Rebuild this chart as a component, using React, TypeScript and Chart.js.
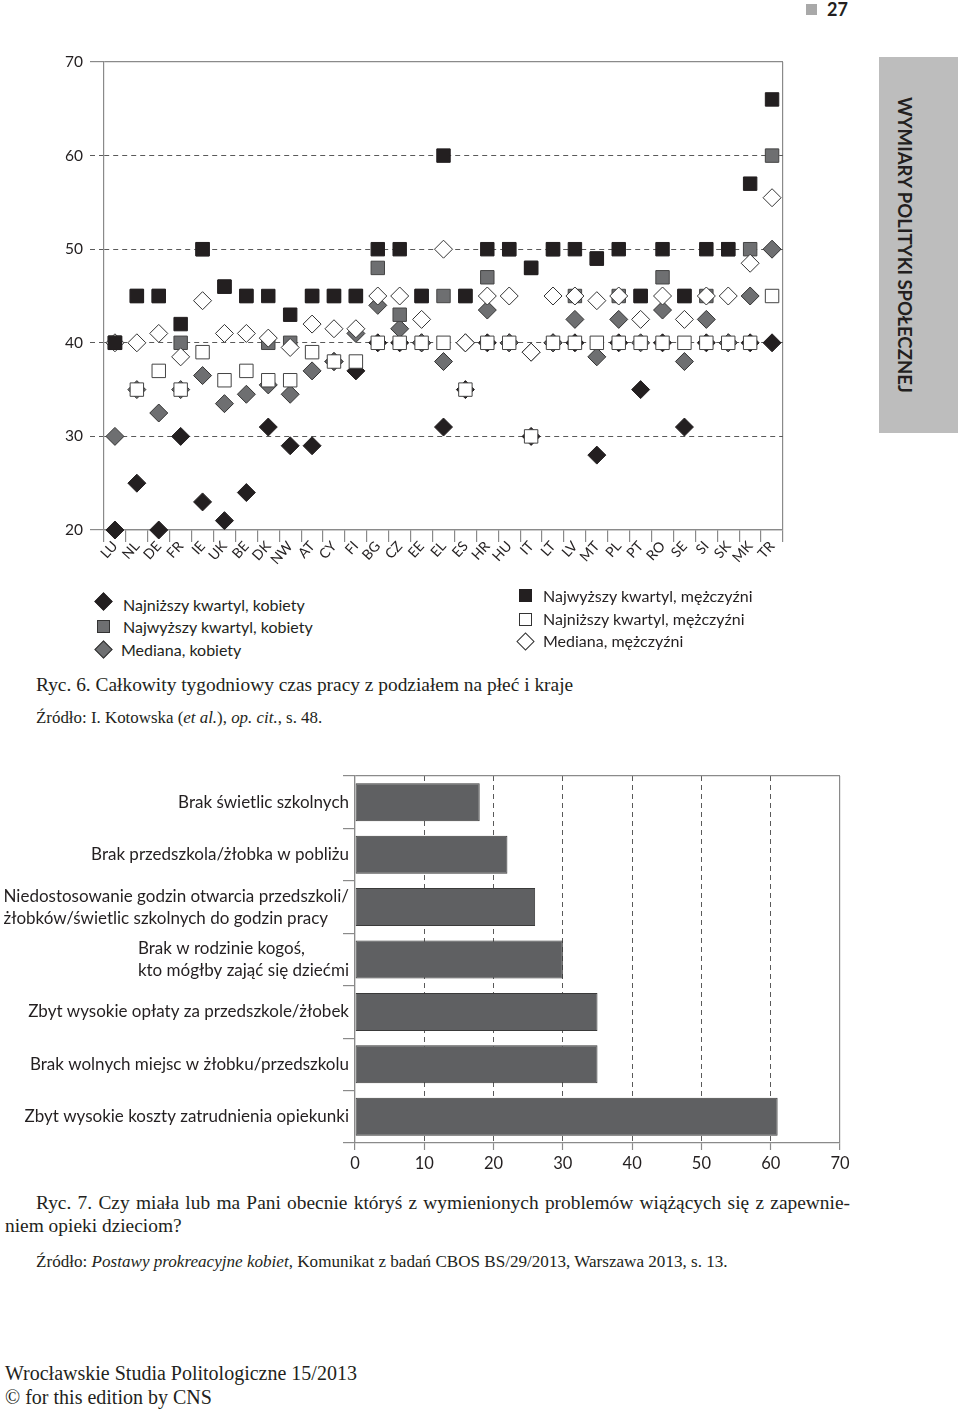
import React, { useEffect, useRef } from "react";
import { Chart, registerables } from "chart.js";

Chart.register(...registerables);

// ---------- Chart 1 data (Ryc. 6) ----------
const countries = [
  "LU", "NL", "DE", "FR", "IE", "UK", "BE", "DK", "NW", "AT", "CY", "FI", "BG", "CZ", "EE", "EL",
  "ES", "HR", "HU", "IT", "LT", "LV", "MT", "PL", "PT", "RO", "SE", "SI", "SK", "MK", "TR",
];
const womenLow = [
  20, 25, 20, 30, 23, 21, 24, 31, 29, 29, 38, 37, 40, 40, 40, 31,
  35, 40, 40, 30, 40, 40, 28, 40, 35, 40, 31, 40, 40, 40, 40,
];
const womenHigh = [
  40, 45, 45, 40, 50, 46, 45, 40, 40, 45, 45, 45, 48, 43, 45, 45,
  45, 47, 50, 48, 50, 45, 49, 45, 45, 47, 45, 45, 50, 50, 60,
];
const womenMedian = [
  30, 35, 32.5, 35, 36.5, 33.5, 34.5, 35.5, 34.5, 37, 38, 41, 44, 41.5, 40, 38,
  40, 43.5, 40, 39, 40, 42.5, 38.5, 42.5, 40, 43.5, 38, 42.5, 40, 45, 50,
];
const menHigh = [
  40, 45, 45, 42, 50, 46, 45, 45, 43, 45, 45, 45, 50, 50, 45, 60,
  45, 50, 50, 48, 50, 50, 49, 50, 45, 50, 45, 50, 50, 57, 66,
];
const menLow = [
  40, 35, 37, 35, 39, 36, 37, 36, 36, 39, 38, 38, 40, 40, 40, 40,
  35, 40, 40, 30, 40, 40, 40, 40, 40, 40, 40, 40, 40, 40, 45,
];
const menMedian = [
  40, 40, 41, 38.5, 44.5, 41, 41, 40.5, 39.5, 42, 41.5, 41.5, 45, 45, 42.5, 50,
  40, 45, 45, 39, 45, 45, 44.5, 45, 42.5, 45, 42.5, 45, 45, 48.5, 55.5,
];
const hoursTicks = [20, 30, 40, 50, 60, 70];

// ---------- Chart 2 data (Ryc. 7) ----------
const problemLabels = [
  ["Brak świetlic szkolnych"],
  ["Brak przedszkola/żłobka w pobliżu"],
  ["Niedostosowanie godzin otwarcia przedszkoli/", "żłobków/świetlic szkolnych do godzin pracy"],
  ["Brak w rodzinie kogoś,", "kto mógłby zająć się dziećmi"],
  ["Zbyt wysokie opłaty za przedszkole/żłobek"],
  ["Brak wolnych miejsc w żłobku/przedszkolu"],
  ["Zbyt wysokie koszty zatrudnienia opiekunki"],
];
const problemValues = [18, 22, 26, 30, 35, 35, 61];
const percentTicks = [0, 10, 20, 30, 40, 50, 60, 70];

// ---------- styles ----------
const INK = "#231f20";
const AXIS = "#8a8a8a";
const DASH = "#5a5a5a";
const DARK = "#231f20";
const GRAY = "#6e6f71";
const SANS = "Lato, 'Noto Sans', sans-serif";
const SERIF = "'Liberation Serif', 'DejaVu Serif', serif";

function ScatterChart() {
  const ref = useRef<HTMLCanvasElement | null>(null);
  useEffect(() => {
    if (!ref.current) return;
    const mk = (
      label: string,
      data: number[],
      style: string,
      fill: string,
      border: string,
      radius: number,
      order: number
    ) => ({
      label,
      data,
      showLine: false,
      clip: false,
      pointStyle: style,
      pointRadius: radius,
      pointHoverRadius: radius,
      pointBackgroundColor: fill,
      pointBorderColor: border,
      pointBorderWidth: 1,
      backgroundColor: fill,
      borderColor: border,
      order,
    });
    const chart = new Chart(ref.current, {
      type: "line",
      data: {
        labels: countries,
        datasets: [
          mk("Najniższy kwartyl, kobiety", womenLow, "rectRot", DARK, DARK, 9, 6),
          mk("Najwyższy kwartyl, kobiety", womenHigh, "rect", GRAY, "#444", 9.5, 4),
          mk("Mediana, kobiety", womenMedian, "rectRot", GRAY, "#333", 9, 5),
          mk("Najwyższy kwartyl, mężczyźni", menHigh, "rect", DARK, DARK, 9.5, 1),
          mk("Najniższy kwartyl, mężczyźni", menLow, "rect", "#ffffff", "#444", 9.5, 2),
          mk("Mediana, mężczyźni", menMedian, "rectRot", "#ffffff", "#333", 9, 3),
        ],
      },
      options: {
        responsive: false,
        animation: false,
        events: [],
        layout: { padding: { left: 0, right: 17, top: 32, bottom: 12 } },
        plugins: { legend: { display: false }, tooltip: { enabled: false } },
        scales: {
          x: {
            type: "category",
            offset: true,
            grid: {
              offset: true,
              drawOnChartArea: true,
              color: (c: any) => (c.type === "scale" ? AXIS : "rgba(0,0,0,0)"),
              lineWidth: 1.2,
              tickColor: AXIS,
              tickWidth: 1.2,
              tickLength: 12,
            },
            border: { display: true, color: AXIS, width: 1.2 },
            ticks: {
              autoSkip: false,
              minRotation: 48,
              maxRotation: 48,
              padding: -4,
              color: INK,
              font: { family: SANS, size: 14 },
            },
            afterFit: (s: any) => {
              s.height = 48;
            },
          },
          y: {
            min: 20,
            max: 70,
            afterBuildTicks: (s: any) => {
              s.ticks = hoursTicks.map((v) => ({ value: v }));
            },
            grid: {
              color: (c: any) =>
                c.tick && (c.tick.value === 20 || c.tick.value === 70) ? AXIS : DASH,
              lineWidth: (c: any) =>
                c.tick && (c.tick.value === 20 || c.tick.value === 70) ? 1.2 : 1,
              tickColor: (c: any) =>
                c.tick && (c.tick.value === 20 || c.tick.value === 70) ? AXIS : DASH,
              tickLength: 14,
              tickBorderDash: (c: any) =>
                c.tick && (c.tick.value === 20 || c.tick.value === 70) ? [] : [5, 4],
            },
            border: {
              display: true,
              color: AXIS,
              width: 1.2,
              dash: (c: any) =>
                c.tick && (c.tick.value === 20 || c.tick.value === 70) ? [] : [5, 4],
            },
            ticks: {
              padding: 7,
              color: INK,
              font: { family: SANS, size: 15.5 },
            },
            afterFit: (s: any) => {
              s.width = 104;
            },
          },
        },
      },
    });
    return () => chart.destroy();
  }, []);
  return (
    <canvas
      ref={ref}
      width={800}
      height={560}
      style={{ position: "absolute", left: 0, top: 30, width: 800, height: 560 }}
    />
  );
}

const barLabelsPlugin = {
  id: "barLabels",
  afterDraw(chart: any) {
    const { ctx } = chart;
    const y = chart.scales.y;
    ctx.save();
    ctx.font = `17px ${SANS}`;
    ctx.fillStyle = INK;
    ctx.textBaseline = "middle";
    ctx.textAlign = "left";
    const lineH = 22;
    const right = 349;
    problemLabels.forEach((lines, i) => {
      const yc = y.getPixelForValue(i);
      const w = Math.max(...lines.map((l) => ctx.measureText(l).width));
      const x0 = right - w;
      lines.forEach((line, j) => {
        ctx.fillText(line, x0, yc + (j - (lines.length - 1) / 2) * lineH);
      });
    });
    ctx.restore();
  },
};

function BarChart() {
  const ref = useRef<HTMLCanvasElement | null>(null);
  useEffect(() => {
    if (!ref.current) return;
    const chart = new Chart(ref.current, {
      type: "bar",
      data: {
        labels: problemLabels.map((l) => l.join(" ")),
        datasets: [
          {
            data: problemValues,
            backgroundColor: "#5f6062",
            borderColor: "#3a3a3a",
            borderWidth: 1,
            borderSkipped: false,
            barPercentage: 0.725,
            categoryPercentage: 1,
          },
        ],
      },
      options: {
        indexAxis: "y",
        responsive: false,
        animation: false,
        events: [],
        layout: { padding: { left: 0, right: 20, top: 16, bottom: 7 } },
        plugins: { legend: { display: false }, tooltip: { enabled: false } },
        scales: {
          x: {
            min: 0,
            max: 70,
            afterBuildTicks: (s: any) => {
              s.ticks = percentTicks.map((v) => ({ value: v }));
            },
            grid: {
              color: (c: any) =>
                c.tick && (c.tick.value === 0 || c.tick.value === 70) ? AXIS : DASH,
              lineWidth: (c: any) =>
                c.tick && (c.tick.value === 0 || c.tick.value === 70) ? 1.2 : 1,
              tickColor: AXIS,
              tickWidth: 1.2,
              tickLength: 7,
            },
            border: {
              display: true,
              color: AXIS,
              width: 1.2,
              dash: (c: any) =>
                c.tick && (c.tick.value === 0 || c.tick.value === 70) ? [] : [5, 4],
            },
            ticks: {
              padding: 4,
              color: INK,
              font: { family: SANS, size: 16.5 },
            },
            afterFit: (s: any) => {
              s.height = 30;
            },
          },
          y: {
            type: "category",
            offset: true,
            grid: {
              offset: true,
              drawOnChartArea: true,
              color: (c: any) => (c.index === 0 ? AXIS : "rgba(0,0,0,0)"),
              lineWidth: 1.2,
              tickColor: AXIS,
              tickWidth: 1.2,
              tickLength: 12,
            },
            border: { display: true, color: AXIS, width: 1.2 },
            ticks: { display: false },
            afterFit: (s: any) => {
              s.width = 355;
            },
          },
        },
      },
      plugins: [barLabelsPlugin],
    });
    return () => chart.destroy();
  }, []);
  return (
    <canvas
      ref={ref}
      width={860}
      height={420}
      style={{ position: "absolute", left: 0, top: 760, width: 860, height: 420 }}
    />
  );
}

function Marker({ kind, fill, x, y }: { kind: "sq" | "dia"; fill: string; x: number; y: number }) {
  const s = 13;
  const edge = fill === DARK ? DARK : "#333";
  return (
    <div
      style={{
        position: "absolute",
        left: x - s / 2,
        top: y - s / 2,
        width: s,
        height: s,
        boxSizing: "border-box",
        background: fill,
        border: `1px solid ${edge}`,
        transform: kind === "dia" ? "rotate(45deg)" : undefined,
      }}
    />
  );
}

function LegendItem({ x, y, text }: { x: number; y: number; text: string }) {
  return (
    <div
      style={{
        position: "absolute",
        left: x,
        top: y - 10,
        height: 20,
        lineHeight: "20px",
        fontFamily: SANS,
        fontSize: 16,
        color: INK,
        whiteSpace: "nowrap",
      }}
    >
      {text}
    </div>
  );
}

export default function App() {
  const abs = (left: number, top: number, extra: React.CSSProperties = {}): React.CSSProperties => ({
    position: "absolute",
    left,
    top,
    whiteSpace: "nowrap",
    color: INK,
    ...extra,
  });
  return (
    <div
      style={{
        position: "absolute",
        left: 0,
        top: 0,
        width: 960,
        height: 1410,
        background: "#ffffff",
        overflow: "hidden",
      }}
    >
      {/* page header */}
      <div style={{ position: "absolute", left: 806, top: 4, width: 11, height: 11, background: "#a9a9a9" }} />
      <div style={abs(827, -1, { fontFamily: SANS, fontWeight: 700, fontSize: 18, lineHeight: "20px" })}>27</div>

      {/* side bar */}
      <div
        style={{
          position: "absolute",
          left: 879,
          top: 57,
          width: 79,
          height: 376,
          background: "#bdbdbd",
        }}
      >
        <div
          style={{
            position: "absolute",
            left: 16,
            top: 40,
            writingMode: "vertical-rl",
            fontFamily: SANS,
            fontWeight: 700,
            fontSize: 18.6,
            lineHeight: "20px",
            color: INK,
            whiteSpace: "nowrap",
          }}
        >
          WYMIARY POLITYKI SPOŁECZNEJ
        </div>
      </div>

      <ScatterChart />

      {/* legend of chart 1 */}
      <Marker kind="dia" fill={DARK} x={103} y={601} />
      <LegendItem x={123} y={605} text="Najniższy kwartyl, kobiety" />
      <Marker kind="sq" fill={GRAY} x={103} y={626} />
      <LegendItem x={123} y={627} text="Najwyższy kwartyl, kobiety" />
      <Marker kind="dia" fill={GRAY} x={103} y={649} />
      <LegendItem x={121} y={650} text="Mediana, kobiety" />

      <Marker kind="sq" fill={DARK} x={525} y={595} />
      <LegendItem x={543} y={596} text="Najwyższy kwartyl, mężczyźni" />
      <Marker kind="sq" fill="#ffffff" x={525} y={619} />
      <LegendItem x={543} y={619} text="Najniższy kwartyl, mężczyźni" />
      <Marker kind="dia" fill="#ffffff" x={525} y={641} />
      <LegendItem x={543} y={641} text="Mediana, mężczyźni" />

      {/* caption 1 */}
      <div style={abs(36, 673, { fontFamily: SERIF, fontSize: 19.4, lineHeight: "24px" })}>
        Ryc. 6. Całkowity tygodniowy czas pracy z podziałem na płeć i kraje
      </div>
      <div style={abs(36, 707, { fontFamily: SERIF, fontSize: 16.9, lineHeight: "22px" })}>
        Źródło: I. Kotowska (<i>et al.</i>), <i>op. cit.</i>, s. 48.
      </div>

      <BarChart />

      {/* caption 2 */}
      <div
        style={abs(36, 1191, {
          width: 814,
          fontFamily: SERIF,
          fontSize: 19.4,
          lineHeight: "24px",
          textAlign: "justify",
          textAlignLast: "justify",
        } as React.CSSProperties)}
      >
        Ryc. 7. Czy miała lub ma Pani obecnie któryś z wymienionych problemów wiążących się z zapewnie-
      </div>
      <div style={abs(5, 1214, { fontFamily: SERIF, fontSize: 19.4, lineHeight: "24px" })}>
        niem opieki dzieciom?
      </div>
      <div style={abs(36, 1251, { fontFamily: SERIF, fontSize: 17.1, lineHeight: "22px" })}>
        Źródło: <i>Postawy prokreacyjne kobiet</i>, Komunikat z badań CBOS BS/29/2013, Warszawa 2013, s. 13.
      </div>

      {/* footer */}
      <div style={abs(5, 1362, { fontFamily: SERIF, fontSize: 20, lineHeight: "22px" })}>
        Wrocławskie Studia Politologiczne 15/2013
      </div>
      <div style={abs(5, 1386, { fontFamily: SERIF, fontSize: 20, lineHeight: "22px" })}>
        © for this edition by CNS
      </div>
    </div>
  );
}
